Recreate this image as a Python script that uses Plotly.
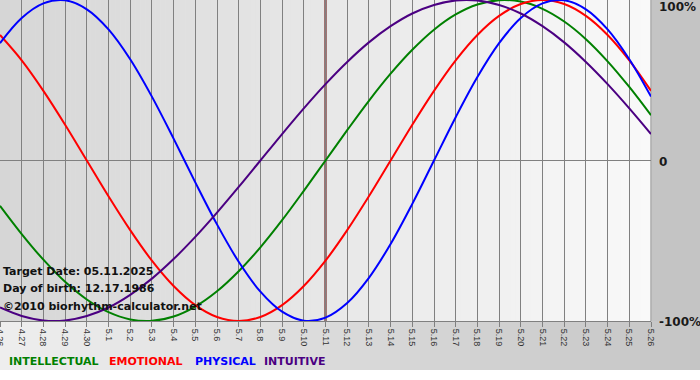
import plotly.graph_objects as go

# ---- data ----
date_labels = ["4.26", "4.27", "4.28", "4.29", "4.30", "5.1", "5.2", "5.3", "5.4", "5.5",
               "5.6", "5.7", "5.8", "5.9", "5.10", "5.11", "5.12", "5.13", "5.14", "5.15",
               "5.16", "5.17", "5.18", "5.19", "5.20", "5.21", "5.22", "5.23", "5.24", "5.25", "5.26"]

intellectual = [-28.2, -45.8, -61.8, -75.6, -86.6, -94.5, -99.0, -99.9, -97.2, -91.0,
                -81.5, -69.0, -54.1, -37.2, -18.9, 0.0, 18.9, 37.2, 54.1, 69.0,
                81.5, 91.0, 97.2, 99.9, 99.0, 94.5, 86.6, 75.6, 61.8, 45.8, 28.2]

emotional = [78.2, 62.4, 43.4, 22.3, 0.0, -22.3, -43.4, -62.4, -78.2, -90.1,
             -97.5, -100.0, -97.5, -90.1, -78.2, -62.4, -43.4, -22.3, 0.0, 22.3,
             43.4, 62.4, 78.2, 90.1, 97.5, 100.0, 97.5, 90.1, 78.2, 62.4, 43.4]

physical = [73.1, 88.8, 97.9, 99.8, 94.2, 81.7, 63.1, 39.8, 13.6, -13.6,
            -39.8, -63.1, -81.7, -94.2, -99.8, -97.9, -88.8, -73.1, -52.0, -27.0,
            0.0, 27.0, 52.0, 73.1, 88.8, 97.9, 99.8, 94.2, 81.7, 63.1, 39.8]

intuitive = [-91.6, -96.9, -99.7, -99.7, -96.9, -91.6, -83.7, -73.6, -61.4, -47.6,
             -32.5, -16.5, 0.0, 16.5, 32.5, 47.6, 61.4, 73.6, 83.7, 91.6,
             96.9, 99.7, 99.7, 96.9, 91.6, 83.7, 73.6, 61.4, 47.6, 32.5, 16.5]

target_label = "5.11"
series_names = ["INTELLECTUAL", "EMOTIONAL", "PHYSICAL", "INTUITIVE"]
series_colors = ["#008000", "#ff0000", "#0000ff", "#4b0082"]
info_lines = ["Target Date: 05.11.2025", "Day of birth: 12.17.1986", "©2010 biorhythm-calculator.net"]
y_labels = ["100%", "0", "-100%"]

# ---- figure ----
W, H = 700, 380
ML, MR, MT, MB = 0, 49, 0, 59
PW, PH = W - ML - MR, H - MT - MB

x_idx = list(range(len(date_labels)))
fig = go.Figure()

for name, vals, col in zip(series_names, [intellectual, emotional, physical, intuitive], series_colors):
    fig.add_trace(go.Scatter(
        x=x_idx, y=[v / 100 for v in vals], mode="lines", name=name,
        line=dict(color=col, width=2, shape="spline", smoothing=1),
        hoverinfo="skip"))

shapes = []
# grey area right of the plot
shapes.append(dict(type="rect", xref="paper", yref="paper", x0=1, x1=(W + 2 - ML) / PW, y0=0, y1=1.01,
                   fillcolor="#c4c4c4", line=dict(width=0), layer="below"))
# plot-area horizontal gradient (grey -> near white)
n = 130
c0, c1 = 214, 249
for i in range(n):
    t = i / (n - 1)
    c = round(c0 + (c1 - c0) * t)
    shapes.append(dict(type="rect", xref="paper", yref="paper",
                       x0=i / n, x1=(i + 1) / n + 0.001, y0=0, y1=1,
                       fillcolor=f"rgb({c},{c},{c})", line=dict(width=0), layer="below"))
# bottom strip gradient (light -> grey), spans full width under the plot
m = 70
b0, b1 = 238, 197
for i in range(m):
    t = i / (m - 1)
    c = round(b0 + (b1 - b0) * t)
    x0 = (i * W / m - ML) / PW
    x1 = ((i + 1) * W / m - ML + 1) / PW
    shapes.append(dict(type="rect", xref="paper", yref="paper",
                       x0=x0, x1=x1, y0=-(370 - PH) / PH, y1=0,
                       fillcolor=f"rgb({c},{c},{c})", line=dict(width=0), layer="below"))
# target date line
tx = date_labels.index(target_label)
shapes.append(dict(type="line", xref="x", yref="paper", x0=tx, x1=tx, y0=0, y1=1,
                   line=dict(color="#5a0000", width=2), layer="between"))
# right border of plot
shapes.append(dict(type="line", xref="paper", yref="paper", x0=1, x1=1, y0=0, y1=1,
                   line=dict(color="#808080", width=1), layer="between"))

annotations = []
# right side labels
for lab, yv, ys in zip(y_labels, [1, 0, -1], [-7, -1, -1]):
    annotations.append(dict(xref="paper", yref="y", x=1, y=yv, xshift=6, yshift=ys,
                            xanchor="left", yanchor="middle", text=f"<b>{lab}</b>", showarrow=False,
                            font=dict(family="DejaVu Sans", size=12, color="#1a1a1a")))
# info text on the left
for txt, ypx in zip(info_lines, [271, 288, 306]):
    annotations.append(dict(xref="paper", yref="paper", x=0, y=(PH - ypx) / PH, xshift=1,
                            xanchor="left", yanchor="middle", text=f"<b>{txt}</b>", showarrow=False,
                            font=dict(family="DejaVu Sans", size=11, color="#111111")))
# legend text at bottom
for name, col, xpx in zip(series_names, series_colors, [7, 107, 193, 262]):
    annotations.append(dict(xref="paper", yref="paper", x=xpx / PW, y=(PH - 361) / PH,
                            xanchor="left", yanchor="middle", text=f"<b>{name}</b>", showarrow=False,
                            font=dict(family="DejaVu Sans", size=11, color=col)))

fig.update_layout(
    width=W, height=H,
    margin=dict(l=ML, r=MR, t=MT, b=MB, pad=0),
    paper_bgcolor="#ffffff", plot_bgcolor="rgba(0,0,0,0)",
    showlegend=False,
    shapes=shapes, annotations=annotations,
    xaxis=dict(range=[0, len(date_labels) - 1], tickmode="array", tickvals=x_idx, ticktext=date_labels,
               tickangle=90, ticks="outside", ticklen=5, tickcolor="#808080",
               showgrid=True, gridcolor="#808080", gridwidth=1, zeroline=False,
               showline=True, linecolor="#808080", linewidth=1, automargin=False,
               ticklabeloverflow="allow",
               tickfont=dict(family="Liberation Sans", size=9, color="#333333"), fixedrange=True),
    yaxis=dict(range=[-1, 1], showticklabels=False, showgrid=False, zeroline=True,
               zerolinecolor="#808080", zerolinewidth=1, automargin=False, fixedrange=True),
)

fig.write_html("out.html", config={"displayModeBar": False, "staticPlot": True},
               post_script="document.body.style.margin='0';document.body.style.overflow='hidden';")
